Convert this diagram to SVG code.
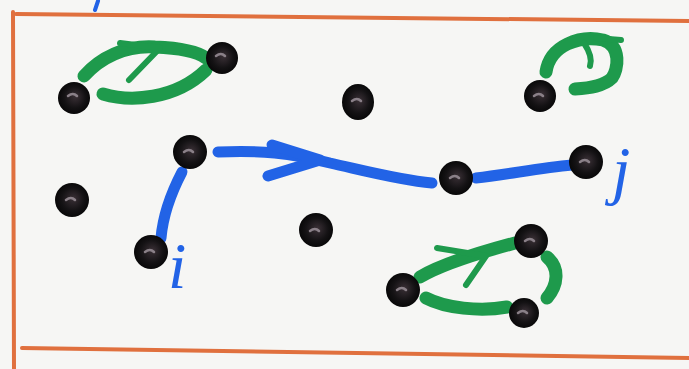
<svg xmlns="http://www.w3.org/2000/svg" width="689" height="369" viewBox="0 0 689 369">
<defs>
<radialGradient id="g" cx="0.5" cy="0.5" r="0.55" fx="0.55" fy="0.45">
<stop offset="0" stop-color="#3a3036"/><stop offset="0.6" stop-color="#141214"/><stop offset="1" stop-color="#050505"/>
</radialGradient>
<style>
.n{fill:url(#g)}
.hl{fill:none;stroke:#8a8088;stroke-width:2.5;stroke-linecap:round}
.gr{fill:none;stroke:#1e9a4c;stroke-width:13;stroke-linecap:round;stroke-linejoin:round}
.grt{fill:none;stroke:#1e9a4c;stroke-width:6;stroke-linecap:round;stroke-linejoin:round}
.bl{fill:none;stroke:#2263e6;stroke-width:11;stroke-linecap:round;stroke-linejoin:round}
.bd{fill:none;stroke:#e0703e;stroke-width:4;stroke-linecap:round}
.lb{font-family:'Liberation Serif',serif;font-style:italic;fill:#2263e6;font-size:66px}
</style>
</defs>
<rect width="689" height="369" fill="#f6f6f4"/>
<g id="border">
<path class="bd" d="M16 14 L689 21"/>
<path class="bd" d="M13 12 L14 369"/>
<path class="bd" d="M22 348 L689 358"/>
<path d="M98 1 L95 10" stroke="#2263e6" stroke-width="4" fill="none" stroke-linecap="round"/>
</g>
<g id="connectors">
<path class="gr" d="M84 76 C100 58 125 45 155 47 C180 48 198 52 206 58"/>
<path class="gr" d="M103 94 C130 102 175 100 206 70"/>
<path class="grt" d="M120 43 L160 48 L129 80"/>
<path class="gr" d="M546 72 C550 45 580 35 603 40 C622 46 618 70 612 78 C604 86 590 88 575 89"/>
<path class="grt" d="M584 43 C590 52 592 60 590 66"/>
<path class="grt" d="M596 38 L621 40"/>
<path class="gr" d="M420 277 C440 265 470 255 515 243"/>
<path class="grt" d="M437 248 L486 256 L466 285"/>
<path class="gr" d="M426 298 C445 308 480 312 507 307"/>
<path class="gr" d="M547 257 C560 268 558 285 547 298"/>
<path class="bl" d="M218 152 C260 150 290 153 330 163 C370 172 400 180 432 183"/>
<path class="bl" d="M272 145 L320 160 L268 176"/>
<path class="bl" d="M476 178 C510 174 540 168 572 165"/>
<path class="bl" d="M182 172 C170 195 163 215 161 238"/>
</g>
<g id="n1"><circle class="n" cx="74" cy="98" r="16"/><path class="hl" d="M68 96 q5 -4 9 0"/></g>
<g id="n2"><circle class="n" cx="222" cy="58" r="16"/><path class="hl" d="M216 56 q5 -4 9 0"/></g>
<g id="n3"><ellipse class="n" cx="358" cy="102" rx="16" ry="18"/><path class="hl" d="M352 101 q5 -4 9 0"/></g>
<g id="n4"><circle class="n" cx="540" cy="96" r="16"/><path class="hl" d="M534 96 q5 -4 9 0"/></g>
<g id="n5"><circle class="n" cx="190" cy="152" r="17"/><path class="hl" d="M184 152 q5 -4 9 0"/></g>
<g id="n6"><circle class="n" cx="72" cy="200" r="17"/><path class="hl" d="M66 200 q5 -4 9 0"/></g>
<g id="n7"><circle class="n" cx="456" cy="178" r="17"/><path class="hl" d="M450 178 q5 -4 9 0"/></g>
<g id="n8"><circle class="n" cx="586" cy="162" r="17"/><path class="hl" d="M580 162 q5 -4 9 0"/></g>
<g id="n9"><circle class="n" cx="316" cy="230" r="17"/><path class="hl" d="M310 231 q5 -4 9 0"/></g>
<g id="n10"><circle class="n" cx="151" cy="252" r="17"/><path class="hl" d="M145 252 q5 -4 9 0"/></g>
<g id="n11"><circle class="n" cx="531" cy="241" r="17"/><path class="hl" d="M525 241 q5 -4 9 0"/></g>
<g id="n12"><circle class="n" cx="403" cy="290" r="17"/><path class="hl" d="M397 290 q5 -4 9 0"/></g>
<g id="n13"><circle class="n" cx="524" cy="313" r="15"/><path class="hl" d="M518 313 q5 -4 9 0"/></g>
<text class="lb" x="168" y="288">i</text>
<text class="lb" x="612" y="192">j</text>
</svg>
